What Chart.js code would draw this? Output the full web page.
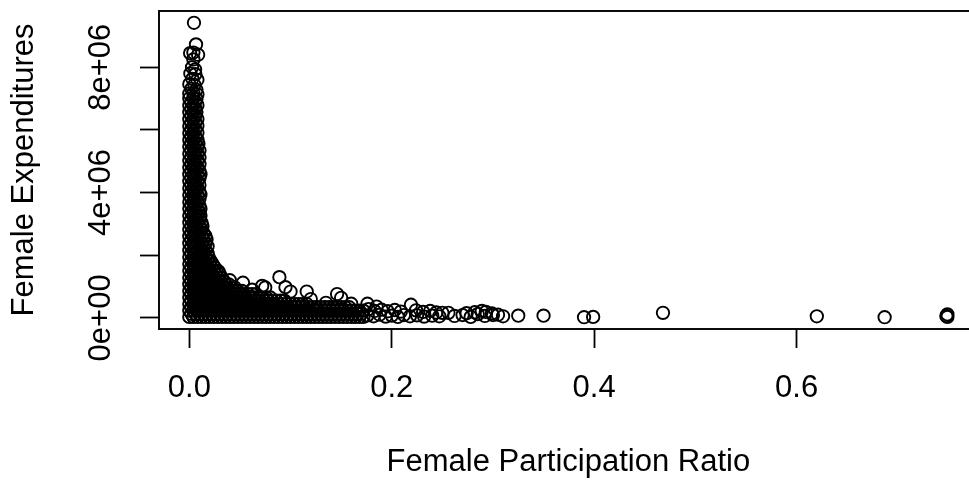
<!DOCTYPE html>
<html>
<head>
<meta charset="utf-8">
<title>Female Expenditures vs Participation Ratio</title>
<script src="https://cdn.jsdelivr.net/npm/chart.js@4.4.0/dist/chart.umd.min.js"></script>
<style>
  html, body { margin: 0; padding: 0; background: #fff; overflow: hidden; }
  canvas { display: block; }
</style>
</head>
<body>
<canvas id="scatter" width="990" height="482"></canvas>
<script>
// points are [participation ratio, expenditures in millions]

// sparse points at the top of the spike
const spikeTop = [
  [0.0046, 9.42], [0.0066, 8.73], [0.0040, 8.47], [0.0008, 8.45], [0.0087, 8.40],
  [0.0040, 8.25], [0.0027, 8.00], [0.0057, 7.93],
  [0.001, 7.80], [0.006, 7.78], [0.003, 7.63], [0.008, 7.60], [0.000, 7.46], [0.005, 7.44],
  [0.002, 7.31], [0.007, 7.28], [0.000, 7.16], [0.004, 7.17], [0.008, 7.13]
];

// spike near zero ratio, 7.0M down to 4.6M
const spikeUpper = [
  [0.000, 7.00], [0.004, 7.01], [0.007, 6.99], [0.002, 6.89], [0.006, 6.90],
  [0.000, 6.78], [0.004, 6.77], [0.008, 6.79], [0.002, 6.67], [0.006, 6.68],
  [0.000, 6.56], [0.004, 6.55], [0.007, 6.57], [0.002, 6.45], [0.006, 6.46],
  [0.000, 6.34], [0.004, 6.33], [0.008, 6.35], [0.002, 6.23], [0.006, 6.24],
  [0.000, 6.12], [0.004, 6.11], [0.008, 6.13], [0.002, 6.01], [0.006, 6.02],
  [0.000, 5.90], [0.004, 5.89], [0.008, 5.91], [0.002, 5.79], [0.006, 5.80],
  [0.000, 5.68], [0.004, 5.67], [0.008, 5.69], [0.002, 5.57], [0.006, 5.58], [0.009, 5.56],
  [0.000, 5.46], [0.004, 5.45], [0.008, 5.47], [0.002, 5.35], [0.006, 5.36], [0.010, 5.34],
  [0.000, 5.24], [0.004, 5.23], [0.008, 5.25], [0.002, 5.13], [0.006, 5.14], [0.010, 5.12],
  [0.000, 5.02], [0.004, 5.01], [0.008, 5.03], [0.002, 4.91], [0.006, 4.92], [0.010, 4.90],
  [0.000, 4.80], [0.004, 4.79], [0.008, 4.81], [0.002, 4.69], [0.006, 4.70], [0.010, 4.68],
  [0.000, 4.58], [0.004, 4.57], [0.008, 4.59], [0.011, 4.58]
];

// spike, 4.5M down to 2.6M
const spikeMid = [
  [0.002, 4.47], [0.006, 4.48], [0.010, 4.46], [0.000, 4.36], [0.004, 4.35], [0.008, 4.37],
  [0.002, 4.25], [0.006, 4.26], [0.010, 4.24], [0.000, 4.14], [0.004, 4.13], [0.008, 4.15],
  [0.002, 4.03], [0.006, 4.04], [0.010, 4.02], [0.000, 3.92], [0.004, 3.91], [0.008, 3.93], [0.011, 3.94],
  [0.002, 3.81], [0.006, 3.82], [0.010, 3.80], [0.000, 3.70], [0.004, 3.69], [0.008, 3.71],
  [0.002, 3.59], [0.006, 3.60], [0.010, 3.58], [0.000, 3.48], [0.004, 3.47], [0.008, 3.49], [0.011, 3.48],
  [0.002, 3.37], [0.006, 3.38], [0.010, 3.36], [0.000, 3.26], [0.004, 3.25], [0.008, 3.27], [0.011, 3.26],
  [0.002, 3.15], [0.006, 3.16], [0.010, 3.14], [0.000, 3.04], [0.004, 3.03], [0.008, 3.05], [0.012, 3.04],
  [0.002, 2.93], [0.006, 2.94], [0.010, 2.92], [0.013, 2.93],
  [0.000, 2.82], [0.004, 2.81], [0.008, 2.83], [0.012, 2.82],
  [0.002, 2.71], [0.006, 2.72], [0.010, 2.70], [0.014, 2.71],
  [0.000, 2.60], [0.004, 2.59], [0.008, 2.61], [0.012, 2.60], [0.016, 2.61]
];

// spike widening toward its foot, 2.5M down to 1.5M
const spikeLow = [
  [0.002, 2.49], [0.006, 2.50], [0.010, 2.48], [0.014, 2.49], [0.017, 2.50],
  [0.000, 2.38], [0.004, 2.37], [0.008, 2.39], [0.012, 2.38], [0.016, 2.37],
  [0.002, 2.27], [0.006, 2.28], [0.010, 2.26], [0.014, 2.27], [0.018, 2.28],
  [0.000, 2.16], [0.004, 2.15], [0.008, 2.17], [0.012, 2.16], [0.016, 2.15],
  [0.002, 2.05], [0.006, 2.06], [0.010, 2.04], [0.014, 2.05], [0.018, 2.06],
  [0.000, 1.94], [0.004, 1.93], [0.008, 1.95], [0.012, 1.94], [0.016, 1.93], [0.019, 1.95],
  [0.002, 1.83], [0.006, 1.84], [0.010, 1.82], [0.014, 1.83], [0.018, 1.84], [0.021, 1.82],
  [0.000, 1.72], [0.004, 1.71], [0.008, 1.73], [0.012, 1.72], [0.016, 1.71], [0.020, 1.73], [0.023, 1.72],
  [0.002, 1.61], [0.006, 1.62], [0.010, 1.60], [0.014, 1.61], [0.018, 1.62], [0.022, 1.60], [0.025, 1.61],
  [0.000, 1.50], [0.004, 1.49], [0.008, 1.51], [0.012, 1.50], [0.016, 1.49], [0.020, 1.51], [0.024, 1.50], [0.027, 1.49]
];

// dense band of low expenditures: [expenditure, ratios observed at that level]
const bandUpperRows = [
  [1.39, [0.002, 0.006, 0.010, 0.014, 0.018, 0.022, 0.026, 0.030]],
  [1.28, [0.000, 0.004, 0.008, 0.012, 0.016, 0.020, 0.024, 0.028, 0.032]],
  [1.18, [0.002, 0.006, 0.010, 0.014, 0.018, 0.022, 0.026, 0.030, 0.034]],
  [1.07, [0.000, 0.004, 0.008, 0.012, 0.016, 0.020, 0.024, 0.028, 0.032, 0.036, 0.039]],
  [0.97, [0.002, 0.006, 0.010, 0.014, 0.018, 0.022, 0.026, 0.030, 0.034, 0.038, 0.042, 0.045]],
  [0.86, [0.000, 0.004, 0.008, 0.012, 0.016, 0.020, 0.024, 0.028, 0.032, 0.036, 0.040, 0.044,
          0.048, 0.052]],
  [0.76, [0.002, 0.006, 0.010, 0.014, 0.018, 0.022, 0.026, 0.030, 0.034, 0.038, 0.042, 0.046,
          0.050, 0.054, 0.058, 0.062, 0.066]],
  [0.65, [0.000, 0.004, 0.008, 0.012, 0.016, 0.020, 0.024, 0.028, 0.032, 0.036, 0.040, 0.044,
          0.048, 0.052, 0.056, 0.060, 0.064, 0.068, 0.072, 0.076, 0.080]],
  [0.55, [0.002, 0.006, 0.010, 0.014, 0.018, 0.022, 0.026, 0.030, 0.034, 0.038, 0.042, 0.046,
          0.050, 0.054, 0.058, 0.062, 0.066, 0.070, 0.074, 0.078, 0.082, 0.086, 0.090, 0.094]]
];

const bandLowerRows = [
  [0.44, [0.000, 0.004, 0.008, 0.012, 0.016, 0.020, 0.024, 0.028, 0.032, 0.036, 0.040, 0.044,
          0.048, 0.052, 0.056, 0.060, 0.064, 0.068, 0.072, 0.076, 0.080, 0.084, 0.088, 0.092,
          0.096, 0.100, 0.104, 0.108, 0.112, 0.116]],
  [0.34, [0.002, 0.006, 0.010, 0.014, 0.018, 0.022, 0.026, 0.030, 0.034, 0.038, 0.042, 0.046,
          0.050, 0.054, 0.058, 0.062, 0.066, 0.070, 0.074, 0.078, 0.082, 0.086, 0.090, 0.094,
          0.098, 0.102, 0.106, 0.110, 0.114, 0.118, 0.122, 0.126, 0.130, 0.134, 0.138, 0.142,
          0.146, 0.150, 0.154, 0.158]],
  [0.23, [0.000, 0.004, 0.008, 0.012, 0.016, 0.020, 0.024, 0.028, 0.032, 0.036, 0.040, 0.044,
          0.048, 0.052, 0.056, 0.060, 0.064, 0.068, 0.072, 0.076, 0.080, 0.084, 0.088, 0.092,
          0.096, 0.100, 0.104, 0.108, 0.112, 0.116, 0.120, 0.124, 0.128, 0.132, 0.136, 0.140,
          0.144, 0.148, 0.152, 0.156, 0.160, 0.164, 0.168, 0.172]],
  [0.13, [0.002, 0.006, 0.010, 0.014, 0.018, 0.022, 0.026, 0.030, 0.034, 0.038, 0.042, 0.046,
          0.050, 0.054, 0.058, 0.062, 0.066, 0.070, 0.074, 0.078, 0.082, 0.086, 0.090, 0.094,
          0.098, 0.102, 0.106, 0.110, 0.114, 0.118, 0.122, 0.126, 0.130, 0.134, 0.138, 0.142,
          0.146, 0.150, 0.154, 0.158, 0.162, 0.166, 0.170]],
  [0.03, [0.000, 0.004, 0.008, 0.012, 0.016, 0.020, 0.024, 0.028, 0.032, 0.036, 0.040, 0.044,
          0.048, 0.052, 0.056, 0.060, 0.064, 0.068, 0.072, 0.076, 0.080, 0.084, 0.088, 0.092,
          0.096, 0.100, 0.104, 0.108, 0.112, 0.116, 0.120, 0.124, 0.128, 0.132, 0.136, 0.140,
          0.144, 0.148, 0.152, 0.156, 0.160, 0.164, 0.168, 0.172]]
];

// loose points sitting above the band
const bandEdge = [
  [0.029, 1.48], [0.040, 1.20], [0.053, 1.12], [0.072, 1.02], [0.089, 1.30], [0.095, 0.98],
  [0.075, 0.97], [0.062, 0.90], [0.100, 0.84], [0.116, 0.84], [0.146, 0.76], [0.150, 0.64],
  [0.120, 0.60], [0.135, 0.48], [0.160, 0.45], [0.176, 0.45], [0.185, 0.36]
];

// thinning tail between 0.17 and 0.31
const tailPts = [
  [0.177, 0.28], [0.183, 0.22], [0.190, 0.26], [0.196, 0.21], [0.203, 0.25], [0.209, 0.20],
  [0.219, 0.42], [0.224, 0.24], [0.231, 0.19], [0.238, 0.22], [0.244, 0.17], [0.250, 0.16],
  [0.256, 0.16], [0.274, 0.15], [0.282, 0.18], [0.289, 0.22], [0.293, 0.19], [0.299, 0.14],
  [0.176, 0.08], [0.182, 0.05], [0.188, 0.10], [0.194, 0.04], [0.200, 0.07], [0.206, 0.03],
  [0.212, 0.09], [0.218, 0.05], [0.225, 0.08], [0.232, 0.04], [0.240, 0.07], [0.247, 0.05],
  [0.262, 0.06], [0.270, 0.09], [0.278, 0.03], [0.285, 0.12], [0.292, 0.06], [0.300, 0.09],
  [0.305, 0.10], [0.310, 0.05]
];

// isolated high-ratio observations
const farPts = [
  [0.325, 0.07], [0.350, 0.07], [0.390, 0.02], [0.399, 0.03], [0.468, 0.16],
  [0.620, 0.05], [0.687, 0.02], [0.749, 0.11], [0.748, 0.06], [0.749, 0.03]
];

const xTicks = [0, 0.2, 0.4, 0.6];
const xTickLabels = ['0.0', '0.2', '0.4', '0.6'];
const yTicks = [0, 2e6, 4e6, 6e6, 8e6];
// R leaves out the labels that would collide
const yTickLabels = ['0e+00', '', '4e+06', '', '8e+06'];

const rowPts = rows => rows.flatMap(([mil, ratios]) => ratios.map(r => [r, mil]));

const allPts = [].concat(spikeTop, spikeUpper, spikeMid, spikeLow,
  rowPts(bandUpperRows), rowPts(bandLowerRows), bandEdge, tailPts, farPts);
const points = allPts.map(([ratio, mil]) => ({ x: ratio, y: mil * 1e6 }));

// axis limits padded 4% beyond the data, as base R does
function paddedRange(vals) {
  const lo = Math.min(...vals), hi = Math.max(...vals);
  const pad = (hi - lo) * 0.04;
  return [lo - pad, hi + pad];
}
const [xMin, xMax] = paddedRange(points.map(p => p.x));
const [yMin, yMax] = paddedRange(points.map(p => p.y));

const FONT = "'Liberation Sans', Arial, Helvetica, sans-serif";
const textFont = { family: FONT, size: 31 };

// full box round the plot region
const frame = {
  id: 'frame',
  afterDatasetsDraw(chart) {
    const { ctx, chartArea: a } = chart;
    ctx.save();
    ctx.strokeStyle = '#000';
    ctx.lineWidth = 1.9;
    ctx.strokeRect(a.left, a.top, a.right - a.left, a.bottom - a.top);
    ctx.restore();
  }
};

const tickGrid = {
  drawOnChartArea: false,
  drawTicks: true,
  tickLength: 19,
  tickWidth: 1.8,
  tickColor: '#000'
};

const ctx = document.getElementById('scatter').getContext('2d');

new Chart(ctx, {
  type: 'scatter',
  data: {
    datasets: [{
      data: points,
      pointStyle: 'circle',
      pointRadius: 6.2,
      pointHoverRadius: 6.2,
      pointBorderWidth: 1.9,
      pointBorderColor: '#000',
      pointBackgroundColor: 'rgba(0,0,0,0)'
    }]
  },
  options: {
    responsive: false,
    devicePixelRatio: 1,
    animation: false,
    events: [],
    layout: { padding: { top: 11, right: 12.3, bottom: 0, left: 0 } },
    plugins: {
      legend: { display: false },
      tooltip: { enabled: false }
    },
    scales: {
      x: {
        type: 'linear',
        position: 'bottom',
        min: xMin,
        max: xMax,
        afterBuildTicks(scale) {
          scale.ticks = xTicks.map(v => ({ value: v }));
        },
        afterFit(scale) {
          scale.height = 153;
          scale.paddingLeft = 0;
          scale.paddingRight = 0;
        },
        border: { display: false },
        grid: tickGrid,
        ticks: {
          autoSkip: false,
          maxRotation: 0,
          padding: 21.7,
          color: '#000',
          font: textFont,
          callback: (v, i) => xTickLabels[i]
        },
        title: {
          display: true,
          text: 'Female Participation Ratio',
          color: '#000',
          font: textFont,
          padding: { top: 0, bottom: 1 }
        }
      },
      y: {
        type: 'linear',
        position: 'left',
        min: yMin,
        max: yMax,
        afterBuildTicks(scale) {
          scale.ticks = yTicks.map(v => ({ value: v }));
        },
        afterFit(scale) {
          scale.width = 159;
          scale.paddingTop = 0;
          scale.paddingBottom = 0;
        },
        border: { display: false },
        grid: tickGrid,
        ticks: {
          autoSkip: false,
          minRotation: 90,
          maxRotation: 90,
          crossAlign: 'center',
          padding: -4.8,
          color: '#000',
          font: textFont,
          callback: (v, i) => yTickLabels[i]
        },
        title: {
          display: true,
          text: 'Female Expenditures',
          color: '#000',
          font: textFont,
          padding: { top: 5.7, bottom: 0 }
        }
      }
    }
  },
  plugins: [frame]
});
</script>
</body>
</html>
